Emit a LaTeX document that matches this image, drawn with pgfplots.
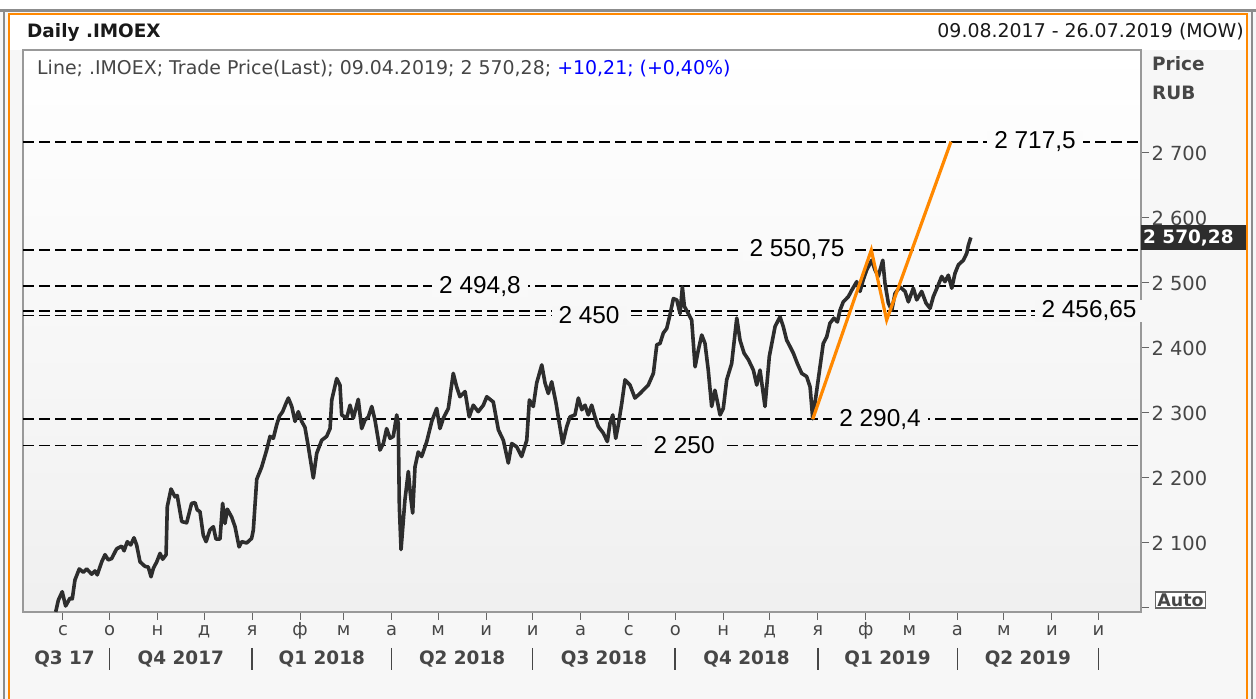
\documentclass[border=0pt]{standalone}
\usepackage{fontspec}
\setmainfont{DejaVu Sans}
\newfontfamily\labfont{Liberation Sans}
\usepackage{pgfplots}
\pgfplotsset{compat=1.18}
\usepackage{pgfplotstable}
\definecolor{eorange}{RGB}{255,136,0}
\definecolor{txt}{RGB}{70,70,70}
\definecolor{pline}{RGB}{45,45,45}

\pgfplotstableread{
d v
-4.7 1994
-3.0 2012
-0.5 2025
1.7 2003
4.5 2015
6.0 2014
7.7 2043
10.5 2060
13.1 2055
15.3 2060
18.5 2052
20.6 2057
22.1 2051
25.0 2071
27.1 2082
29.2 2074
31.4 2076
34.6 2091
37.9 2095
39.4 2088
41.5 2102
43.7 2097
45.8 2108
47.5 2097
49.7 2071
52.9 2064
55.0 2063
56.8 2048
58.3 2061
60.5 2071
62.6 2084
64.3 2075
66.5 2082
67.3 2156
69.7 2183
72.3 2171
73.7 2173
76.6 2133
79.8 2131
83.0 2161
85.2 2162
86.6 2151
88.4 2148
90.5 2112
92.3 2102
94.8 2120
97.0 2125
98.7 2106
101.3 2106
103.0 2161
104.5 2130
106.0 2152
108.8 2140
111.0 2125
113.6 2094
115.3 2102
118.5 2100
121.7 2107
122.8 2120
125.0 2198
128.2 2217
131.4 2243
133.6 2264
135.7 2261
137.9 2282
139.6 2295
141.7 2302
143.9 2315
145.4 2323
147.6 2310
149.7 2287
151.8 2302
154.0 2287
156.1 2278
158.3 2248
161.5 2200
163.7 2238
166.9 2258
170.1 2264
172.3 2276
173.4 2320
176.6 2353
178.7 2343
179.8 2297
183.0 2292
185.2 2312
187.3 2292
190.5 2321
192.7 2276
194.8 2289
197.0 2294
199.2 2310
201.3 2289
204.5 2243
206.7 2253
208.8 2276
211.0 2261
213.1 2264
215.3 2297
216.3 2284
217.0 2156
218.1 2090
220.6 2166
222.8 2210
224.3 2171
225.6 2146
227.1 2217
229.2 2240
231.4 2233
234.7 2256
237.9 2287
241.1 2307
243.2 2276
245.4 2292
248.6 2307
251.8 2361
254.0 2340
256.1 2325
259.4 2333
262.1 2294
264.7 2312
267.9 2302
271.2 2312
273.4 2325
277.6 2317
280.9 2274
284.1 2258
287.3 2223
289.5 2253
292.7 2248
295.9 2233
299.2 2258
300.9 2320
303.4 2310
305.6 2346
308.9 2374
311.0 2346
313.1 2330
315.3 2348
318.1 2315
320.2 2284
322.4 2253
325.0 2279
327.1 2294
330.3 2297
332.5 2323
334.7 2305
336.8 2312
338.9 2297
341.1 2312
343.2 2294
345.4 2279
348.6 2269
351.2 2256
352.9 2284
354.7 2297
356.6 2261
358.3 2282
360.5 2315
362.6 2351
365.8 2343
369.0 2323
372.3 2330
375.5 2338
377.6 2343
380.9 2361
383.1 2405
385.2 2407
387.3 2423
389.5 2430
391.6 2451
393.8 2476
396.0 2474
398.1 2453
399.6 2494
400.9 2464
403.4 2453
405.6 2443
407.8 2371
409.9 2397
412.1 2420
414.2 2407
416.3 2366
418.5 2310
420.6 2335
422.4 2315
423.9 2297
426.0 2307
428.2 2351
431.4 2376
434.7 2446
436.8 2412
439.4 2392
442.2 2382
445.4 2366
447.6 2343
449.7 2366
452.9 2310
455.7 2387
459.4 2433
462.6 2448
464.7 2433
466.9 2412
469.1 2402
471.2 2392
473.8 2376
476.6 2361
479.8 2356
482.0 2340
483.7 2291
486.3 2335
488.4 2371
490.5 2407
492.7 2417
494.8 2438
497.4 2446
499.6 2440
501.3 2458
503.4 2471
506.7 2479
508.9 2489
512.1 2502
514.2 2487
516.3 2505
518.5 2520
521.8 2535
523.9 2520
526.0 2510
528.9 2535
530.3 2500
532.5 2469
534.7 2458
536.8 2484
540.0 2494
543.3 2487
545.4 2471
548.6 2492
550.8 2474
554.0 2487
556.8 2469
559.4 2461
561.5 2479
564.7 2497
566.9 2510
569.0 2502
571.2 2512
573.4 2492
575.5 2515
577.7 2528
580.9 2535
583.1 2546
584.1 2558
585.7 2570
}\price

\begin{document}
\begin{tikzpicture}[x=1bp,y=1bp]
\useasboundingbox (0,0) rectangle (1256,699);
\fill[black!3] (0,0) rectangle (1256,699);
\fill[white] (0,688) rectangle (1256,699);
\fill[white] (9,649) rectangle (1247,685);
\draw[black!45, line width=3bp] (0,688) -- (1256,688);
\draw[black!45, line width=2bp] (4,0) -- (4,688);
\draw[black!45, line width=2bp] (1252,0) -- (1252,688);
\draw[eorange, line width=2bp] (9,0) -- (9,685) -- (1247,685) -- (1247,0);

\begin{axis}[
  at={(23bp,87bp)}, anchor=south west,
  scale only axis, width=1118bp, height=562bp,
  xmin=-25.8, xmax=695.5, ymin=1993.8, ymax=2858.5,
  axis line style={draw=black!40, line width=1.2bp},
  axis background/.style={shade, top color=white, bottom color=black!6},
  xtick={0,30,61,91,122,153,181,212,242,273,303,334,365,395,426,456,487,518,546,577,607,638,668},
  xticklabels={с,о,н,д,я,ф,м,а,м,и,и,а,с,о,н,д,я,ф,м,а,м,и,и},
  ytick={2000,2100,2200,2300,2400,2500,2600,2700},
  yticklabels={,2 100,2 200,2 300,2 400,2 500,2 600,2 700},
  xtick pos=bottom, ytick pos=right, yticklabel pos=right,
  tick align=outside, major tick length=8bp,
  tick style={black!60, line width=1bp},
  xticklabel style={font=\fontsize{18}{20}\selectfont, text=txt, text height=9bp, text depth=0bp, yshift=-3bp},
  yticklabel style={font=\fontsize{19.5}{22}\selectfont, text=txt, xshift=-1bp},
  clip=false,
]
% horizontal levels
\foreach \lv in {2717.5,2550.75,2494.8,2456.65,2450,2290.4,2250}{
  \edef\temp{\noexpand\addplot[black, line width=1.9bp, dash pattern=on 11bp off 5bp, forget plot] coordinates {(-25.8,\lv) (695.5,\lv)};}
  \temp
}
\begin{scope}[every node/.style={font=\labfont\fontsize{24.5}{26}\selectfont, text=black, inner xsep=7bp, inner ysep=1bp}]
\node[fill=black!1] at (axis cs:627.1,2717.5) {2 717,5};
\node[fill=black!2] at (axis cs:473.6,2550.75) {2 550,75};
\node[fill=black!2.5] at (axis cs:269.0,2494.8) {2 494,8};
\node[fill=black!3] at (axis cs:339.4,2450) {2 450};
\node[fill=black!3] at (axis cs:662,2457) {2 456,65};
\node[fill=black!4] at (axis cs:527.1,2290.4) {2 290,4};
\node[fill=black!4] at (axis cs:400.7,2250) {2 250};
\end{scope}
% price
\addplot[pline, line width=3.6bp, line join=round] table[x=d,y=v]{\price};
% zigzag
\addplot[eorange, line width=3.2bp, line join=miter] coordinates {(483.7,2290.4) (521.5,2550.75) (531.4,2443) (572.9,2717.5)};
% quarter labels
\begin{scope}[every node/.style={font=\bfseries\fontsize{18.5}{20}\selectfont, text=txt, anchor=base, inner sep=0pt}]
\node at ([yshift=-53bp]axis cs:1,1993.8) {Q3 17};
\node at ([yshift=-53bp]axis cs:76,1993.8) {Q4 2017};
\node at ([yshift=-53bp]axis cs:167,1993.8) {Q1 2018};
\node at ([yshift=-53bp]axis cs:257.5,1993.8) {Q2 2018};
\node at ([yshift=-53bp]axis cs:349,1993.8) {Q3 2018};
\node at ([yshift=-53bp]axis cs:441,1993.8) {Q4 2018};
\node at ([yshift=-53bp]axis cs:532,1993.8) {Q1 2019};
\node at ([yshift=-53bp]axis cs:622.5,1993.8) {Q2 2019};
\end{scope}
\foreach \q in {30,122,212,303,395,487,577,668}{
  \edef\temp{\noexpand\draw[txt, line width=1.6bp] ([yshift=-36bp]axis cs:\q,1993.8) -- ([yshift=-58bp]axis cs:\q,1993.8);}
  \temp
}
\end{axis}

\node[anchor=base west, inner sep=0, font=\bfseries\fontsize{18.5}{20}\selectfont, text=black!90] at (27,661) {Daily .IMOEX};
\node[anchor=base east, inner sep=0, font=\fontsize{19}{22}\selectfont, text=black!90] at (1244,661) {09.08.2017 - 26.07.2019 (MOW)};
\node[anchor=base west, inner sep=0, font=\fontsize{19}{22}\selectfont, text=txt] at (37,624) {Line; .IMOEX; Trade Price(Last); 09.04.2019; 2 570,28; \textcolor{blue}{+10,21; (+0,40\%)}};
\node[anchor=base west, inner sep=0, font=\bfseries\fontsize{18.5}{20}\selectfont, text=txt] at (1152,628) {Price};
\node[anchor=base west, inner sep=0, font=\bfseries\fontsize{18.5}{20}\selectfont, text=txt] at (1152,599) {RUB};
\fill[pline] (1141,449) rectangle (1246,474);
\node[anchor=west, inner sep=0, font=\bfseries\fontsize{18.5}{20}\selectfont, text=white] at (1143,461.5) {2 570,28};
\node[draw=black!60, fill=white, line width=1.2bp, font=\bfseries\fontsize{17.5}{20}\selectfont, text=txt, inner xsep=2bp, inner ysep=1.5bp] at (1180.5,99) {Auto};
\end{tikzpicture}
\end{document}
